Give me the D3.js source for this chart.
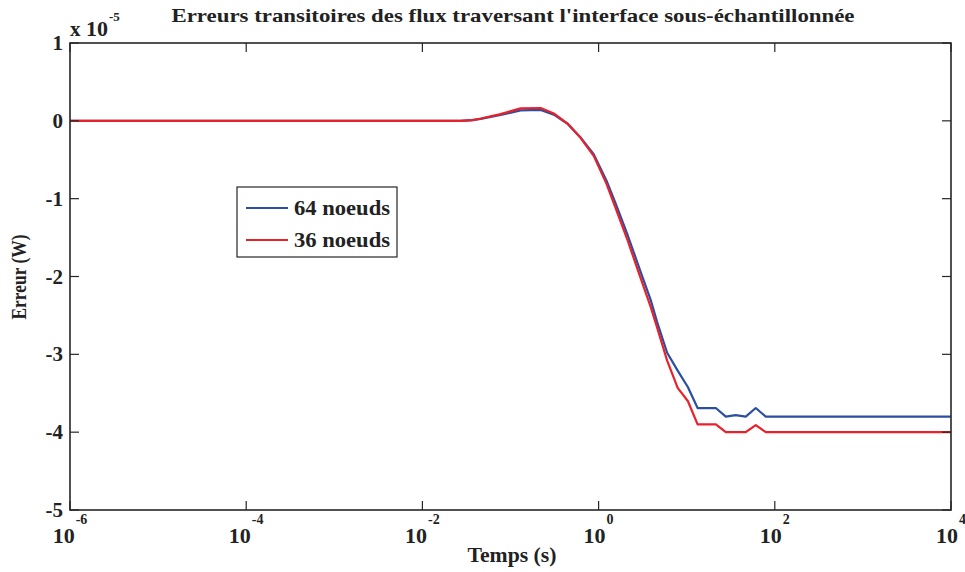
<!DOCTYPE html>
<html>
<head>
<meta charset="utf-8">
<script src="https://cdn.jsdelivr.net/npm/d3@7"></script>
<style>
  html, body { margin: 0; padding: 0; background: #fff; }
  svg { display: block; }
  text { font-family: "Liberation Serif", "Times New Roman", serif; font-weight: bold; fill: #222; }
</style>
</head>
<body>
<svg id="chart" width="965" height="572"></svg>
<script>
// ---- data ----
const times = [1e-6, 0.027, 0.037, 0.046, 0.077, 0.13, 0.22, 0.31, 0.445, 0.62, 0.88, 1.23, 1.56, 2.14, 3.0, 3.9, 4.6, 6.0, 7.9, 10.3, 13.3, 21.4, 27.8, 36, 46.8, 60.8, 79, 102, 10000];
const err64 = [0, 0, 0.008, 0.025, 0.075, 0.135, 0.14, 0.08, -0.04, -0.21, -0.43, -0.77, -1.06, -1.47, -1.94, -2.30, -2.58, -2.98, -3.21, -3.42, -3.69, -3.69, -3.80, -3.78, -3.80, -3.69, -3.80, -3.80, -3.80];
const err36 = [0, 0, 0.01, 0.03, 0.086, 0.16, 0.165, 0.095, -0.035, -0.215, -0.45, -0.81, -1.12, -1.54, -2.02, -2.39, -2.65, -3.08, -3.43, -3.60, -3.90, -3.90, -4.0, -4.0, -4.0, -3.91, -4.0, -4.0, -4.0];
const seriesNames = ["64 noeuds", "36 noeuds"];
const seriesColors = ["#2b4ea3", "#e8212b"];
const xTickExps = [-6, -4, -2, 0, 2, 4];
const yTicks = [1, 0, -1, -2, -3, -4, -5];
const title = "Erreurs transitoires des flux traversant l'interface sous-échantillonnée";
const xLabel = "Temps (s)";
const yLabel = "Erreur (W)";

// ---- layout ----
const svg = d3.select("#chart");
const L = 70, R = 951, T = 43, B = 510;
const x = d3.scaleLog().domain([1e-6, 1e4]).range([L, R]);
const y = d3.scaleLinear().domain([-5, 1]).range([B, T]);
const axisColor = "#262626";
const tickLen = 9;

// lines
const series = [err64, err36];
const line = d3.line().x((d, i) => x(times[i])).y(d => y(d));
series.forEach((s, k) => {
  svg.append("path").datum(s)
    .attr("d", line)
    .attr("fill", "none")
    .attr("stroke", seriesColors[k])
    .attr("stroke-width", 2.2)
    .attr("stroke-linejoin", "round");
});

// box
svg.append("rect").attr("x", L).attr("y", T).attr("width", R - L).attr("height", B - T)
  .attr("fill", "none").attr("stroke", axisColor).attr("stroke-width", 1.6);

// x ticks (bottom & top, inward)
const xTickVals = xTickExps.map(e => Math.pow(10, e));
const gx = svg.append("g");
xTickVals.forEach(v => {
  gx.append("line").attr("x1", x(v)).attr("x2", x(v)).attr("y1", B).attr("y2", B - tickLen)
    .attr("stroke", axisColor).attr("stroke-width", 1.2);
  gx.append("line").attr("x1", x(v)).attr("x2", x(v)).attr("y1", T).attr("y2", T + tickLen)
    .attr("stroke", axisColor).attr("stroke-width", 1.2);
});
xTickExps.forEach((e, i) => {
  const t = gx.append("text").attr("x", x(xTickVals[i])).attr("y", 543)
    .attr("text-anchor", "middle").attr("font-size", 22);
  t.append("tspan").text("10");
  t.append("tspan").attr("dx", 1).attr("dy", -19).attr("font-size", 14).text(String(e));
});

// y ticks (left & right, inward)
const gy = svg.append("g");
yTicks.forEach(v => {
  gy.append("line").attr("x1", L).attr("x2", L + tickLen).attr("y1", y(v)).attr("y2", y(v))
    .attr("stroke", axisColor).attr("stroke-width", 1.2);
  gy.append("line").attr("x1", R).attr("x2", R - tickLen).attr("y1", y(v)).attr("y2", y(v))
    .attr("stroke", axisColor).attr("stroke-width", 1.2);
  gy.append("text").attr("x", 63).attr("y", y(v) + 7)
    .attr("text-anchor", "end").attr("font-size", 21).text(String(v));
});

// exponent label
svg.append("text").attr("x", 70).attr("y", 36).attr("font-size", 21).text("x");
svg.append("text").attr("x", 86).attr("y", 36).attr("font-size", 22).text("10");
svg.append("text").attr("x", 109).attr("y", 21).attr("font-size", 13).text("-5");

// title and axis labels
svg.append("text").attr("x", 513).attr("y", 22).attr("text-anchor", "middle")
  .attr("font-size", 19).attr("textLength", 683).attr("lengthAdjust", "spacingAndGlyphs").text(title);
svg.append("text").attr("x", 512).attr("y", 562).attr("text-anchor", "middle")
  .attr("font-size", 21).attr("textLength", 89).attr("lengthAdjust", "spacingAndGlyphs").text(xLabel);
svg.append("text").attr("transform", "translate(26,277) rotate(-90)").attr("text-anchor", "middle")
  .attr("font-size", 20).attr("textLength", 85).attr("lengthAdjust", "spacingAndGlyphs").text(yLabel);

// legend
const lg = svg.append("g");
lg.append("rect").attr("x", 237).attr("y", 187).attr("width", 160).attr("height", 70)
  .attr("fill", "#fff").attr("stroke", axisColor).attr("stroke-width", 1.2);
seriesNames.forEach((n, k) => {
  const yy = 208 + k * 32;
  lg.append("line").attr("x1", 246).attr("x2", 288).attr("y1", yy).attr("y2", yy)
    .attr("stroke", seriesColors[k]).attr("stroke-width", 2);
  lg.append("text").attr("x", 294).attr("y", yy + 7).attr("font-size", 20)
    .attr("textLength", 96).attr("lengthAdjust", "spacingAndGlyphs").text(n);
});
</script>
</body>
</html>
